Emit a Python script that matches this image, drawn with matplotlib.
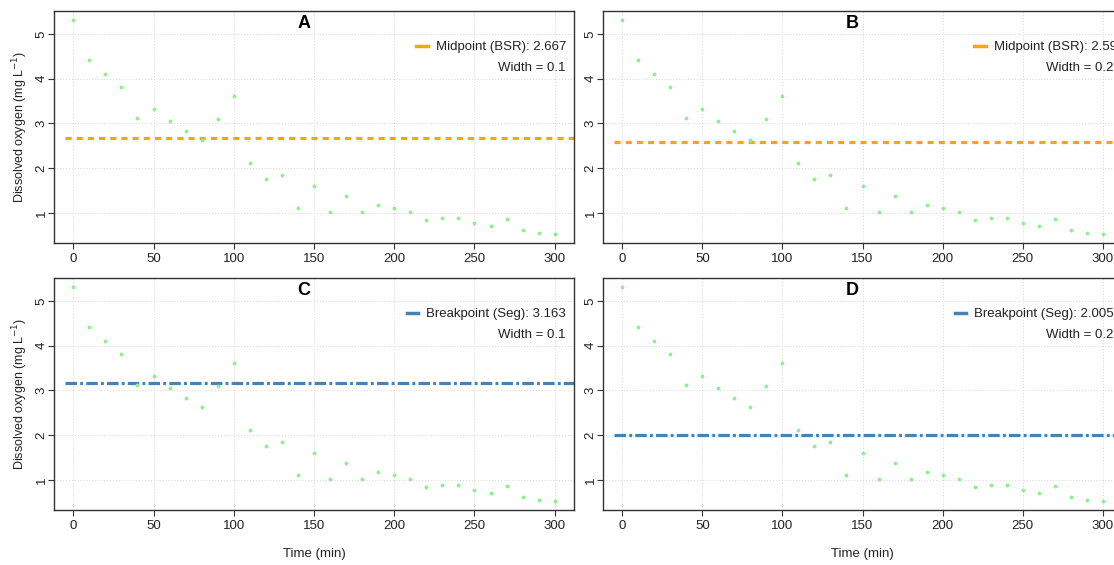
import matplotlib
matplotlib.use("Agg")
import matplotlib.pyplot as plt
from matplotlib.lines import Line2D

plt.rcParams['font.family'] = ['Liberation Sans', 'DejaVu Sans']

time_min = [0, 10, 20, 30, 40, 50, 60, 70, 80, 90, 100, 110, 120, 130, 140, 150,
            160, 170, 180, 190, 200, 210, 220, 230, 240, 250, 260, 270, 280, 290, 300]
oxygen = [5.32, 4.42, 4.10, 3.82, 3.12, 3.32, 3.06, 2.82, 2.64, 3.10, 3.62, 2.12,
          1.75, 1.84, 1.12, 1.60, 1.01, 1.38, 1.03, 1.17, 1.10, 1.03, 0.84, 0.88,
          0.88, 0.77, 0.71, 0.86, 0.62, 0.56, 0.52]

panel_letters = ["A", "B", "C", "D"]
method_labels = ["Midpoint (BSR)", "Midpoint (BSR)", "Breakpoint (Seg)", "Breakpoint (Seg)"]
threshold_values = [2.667, 2.595, 3.163, 2.005]
threshold_texts = ["2.667", "2.595", "3.163", "2.005"]
width_values = ["0.1", "0.2", "0.1", "0.2"]
x_ticks = [0, 50, 100, 150, 200, 250, 300]
y_ticks = [1, 2, 3, 4, 5]

W, H = 1114, 565
fig = plt.figure(figsize=(W / 100, H / 100), dpi=100)

# pixel boxes (left, top, right, bottom)
boxes = [(54, 11, 574, 243), (603, 11, 1122, 243),
         (54, 278, 574, 510), (603, 278, 1122, 510)]
legend_shift_px = [0, 10, 0, 0]

orange = "#FFA500"
blue = "#4682B4"
green = "#90EE90"

for i, (l, t, r, b) in enumerate(boxes):
    wpx = r - l
    hpx = b - t
    ax = fig.add_axes([l / W, 1 - b / H, wpx / W, hpx / H])
    ax.set_xlim(-12, 312)
    ax.set_ylim(0.328, 5.512)
    ax.set_xticks(x_ticks)
    ax.set_yticks(y_ticks)
    ax.grid(True, color="#dcdcdc", linestyle=(0, (1.2, 1.8)), linewidth=0.7)
    ax.set_axisbelow(True)
    for sp in ax.spines.values():
        sp.set_color("#333333")
        sp.set_linewidth(1.0)
    ax.tick_params(axis="both", direction="out", length=4, width=0.8,
                   color="#333333", labelcolor="#222222", labelsize=9.5)
    ax.tick_params(axis="x", pad=3)
    ax.tick_params(axis="y", pad=0.5)
    for lab in ax.get_yticklabels():
        lab.set_rotation(90)
        lab.set_va("center")

    ax.plot(time_min, oxygen, linestyle="none", marker="o", markersize=2.8,
            color=green, markeredgewidth=0, zorder=3)

    v = threshold_values[i]
    if i < 2:
        col = orange
        ax.plot([-5, 320], [v, v], color=col, lw=2.3, linestyle=(0, (1.9, 1.6)),
                solid_capstyle="butt", dash_capstyle="butt", zorder=2)
    else:
        col = blue
        ax.plot([-5, 320], [v, v], color=col, lw=2.3, linestyle=(0, (3.6, 1.0, 0.9, 1.0)),
                solid_capstyle="butt", dash_capstyle="butt", zorder=2)

    ax.text(0.48, 1 - 12.5 / hpx, panel_letters[i], transform=ax.transAxes, ha="center",
            va="center", fontsize=13, fontweight="bold", color="black")

    leg = ax.legend(handles=[Line2D([], [], color=col, lw=2.5)],
                    labels=[f"{method_labels[i]}: {threshold_texts[i]}"],
                    loc="upper right",
                    bbox_to_anchor=(1 + (legend_shift_px[i] - 8) / wpx, 1 - 30 / hpx),
                    frameon=False, handlelength=0.85, handletextpad=0.6,
                    fontsize=9.5, borderaxespad=0, borderpad=0)
    for txt in leg.get_texts():
        txt.set_color("#222222")
    ax.text(1 - 9 / wpx, 1 - 57 / hpx, f"Width = {width_values[i]}", transform=ax.transAxes,
            ha="right", va="center", fontsize=9.5, color="#222222")

    if i % 2 == 0:
        ax.set_ylabel("Dissolved oxygen (mg L$^{-1}$)", fontsize=9, color="#222222", labelpad=4)
    if i >= 2:
        ax.set_xlabel("Time (min)", fontsize=9.5, color="#222222", labelpad=12)

fig.savefig("out.png", dpi=100)
